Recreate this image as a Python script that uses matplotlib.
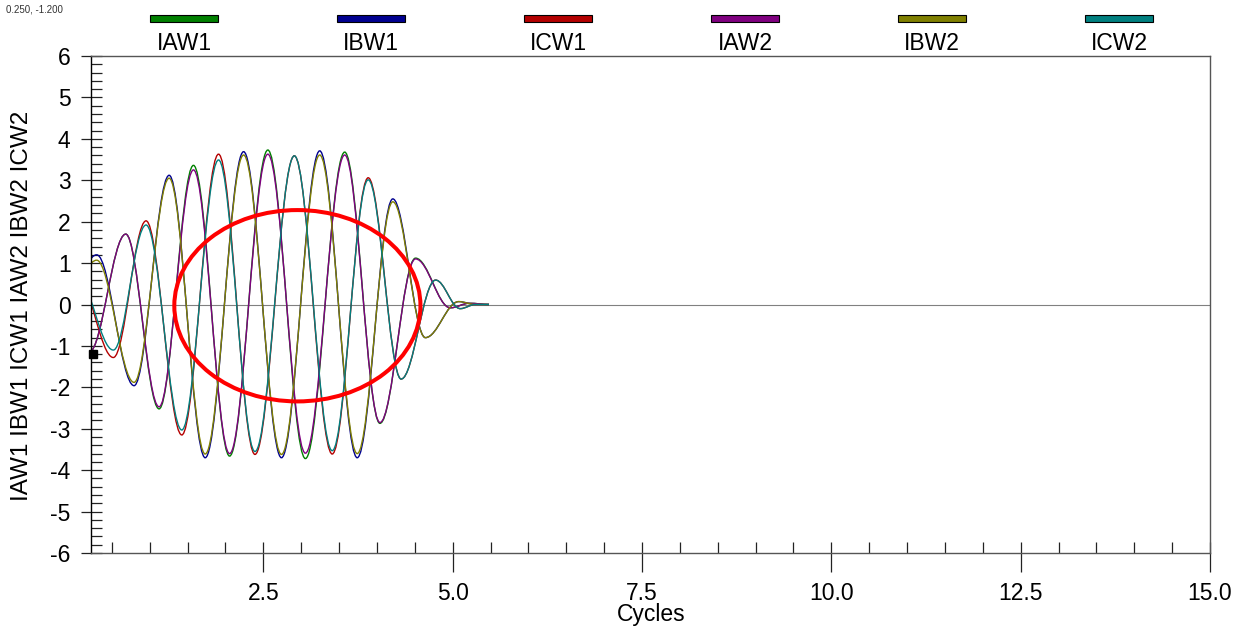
import numpy as np
import matplotlib
matplotlib.use('Agg')
import matplotlib.pyplot as plt
from matplotlib.path import Path
from matplotlib.patches import PathPatch, Ellipse, Rectangle

plt.rcParams['font.family'] = ['Liberation Sans', 'DejaVu Sans']
plt.rcParams['axes.unicode_minus'] = False

# Channel names and colours
channels = ['IAW1', 'IBW1', 'ICW1', 'IAW2', 'IBW2', 'ICW2']
colors = ['#008000', '#000090', '#b40000', '#800080', '#808000', '#008080']

# Waveform extrema (time in cycles, current), per phase
a_times = [0.20, 0.684, 1.124, 1.578, 2.055, 2.56, 3.056, 3.575, 4.04, 4.51, 4.97, 5.22, 5.48]
iaw1 = [-1.15, 1.70, -2.52, 3.36, -3.66, 3.73, -3.72, 3.68, -2.87, 1.12, -0.08, 0.03, 0.0]
iaw2 = [-1.15, 1.70, -2.47, 3.25, -3.60, 3.63, -3.59, 3.61, -2.85, 1.10, -0.08, 0.03, 0.0]

b_times = [-0.19, 0.30, 0.794, 1.257, 1.733, 2.24, 2.74, 3.245, 3.74, 4.21, 4.64, 5.08, 5.30, 5.48]
ibw1 = [-0.40, 1.20, -1.96, 3.12, -3.70, 3.69, -3.70, 3.71, -3.70, 2.55, -0.80, 0.07, 0.0, 0.0]
ibw2 = [-0.35, 1.07, -1.88, 3.05, -3.61, 3.61, -3.62, 3.61, -3.60, 2.48, -0.80, 0.07, 0.0, 0.0]

c_times = [0.04, 0.52, 0.952, 1.424, 1.909, 2.39, 2.91, 3.41, 3.885, 4.32, 4.775, 5.10, 5.30, 5.48]
icw1 = [0.67, -1.28, 2.02, -3.15, 3.63, -3.62, 3.59, -3.61, 3.06, -1.80, 0.59, -0.10, 0.0, 0.0]
icw2 = [0.67, -1.10, 1.92, -3.03, 3.49, -3.55, 3.59, -3.53, 3.01, -1.80, 0.59, -0.10, 0.0, 0.0]

series = [(a_times, iaw1), (b_times, ibw1), (c_times, icw1),
          (a_times, iaw2), (b_times, ibw2), (c_times, icw2)]

# Highlight ellipse (centre, width, height) and cursor readout
ellipse_center = (2.95, -0.03)
ellipse_w, ellipse_h = 3.25, 4.62
cursor = (0.250, -1.200)

K = 1 - 2 / np.pi  # bezier handle for a half sine between extrema


def wave_path(times, values):
    verts = [(times[0], values[0])]
    codes = [Path.MOVETO]
    for i in range(len(times) - 1):
        t1, t2 = times[i], times[i + 1]
        v1, v2 = values[i], values[i + 1]
        dt = t2 - t1
        verts += [(t1 + K * dt, v1), (t2 - K * dt, v2), (t2, v2)]
        codes += [Path.CURVE4] * 3
    return Path(verts, codes)


fig = plt.figure(figsize=(12.54, 6.30), dpi=100)
ax = fig.add_axes([91 / 1254, 1 - 553 / 630, 1119 / 1254, 497 / 630])

ax.axhline(0, color='#808080', lw=0.8, zorder=1)

for (t, v), c in zip(series, colors):
    ax.add_patch(PathPatch(wave_path(t, v), fill=False, edgecolor=c, lw=1.0, zorder=2))

ax.add_patch(Ellipse(ellipse_center, ellipse_w, ellipse_h, fill=False,
                     edgecolor='#ff0000', lw=2.9, zorder=3))

ax.plot([cursor[0]], [cursor[1]], 's', color='black', ms=6, clip_on=False, zorder=4)

ax.set_xlim(0.225, 15.0)
ax.set_ylim(-6, 6)

ax.set_xticks(np.arange(2.5, 15.01, 2.5))
ax.set_xticklabels([f'{x:.1f}' for x in np.arange(2.5, 15.01, 2.5)])
ax.set_xticks(np.arange(0.5, 15.01, 0.5), minor=True)
ax.set_yticks(np.arange(-6, 7, 1))
ax.set_yticks(np.arange(-6, 6.01, 0.2), minor=True)
ax.xaxis.remove_overlapping_locs = False
ax.yaxis.remove_overlapping_locs = False

ax.tick_params(axis='x', which='major', direction='out', length=13.7, width=0.9,
               color='#222222', labelsize=16.5, pad=7)
ax.tick_params(axis='x', which='minor', direction='in', length=7.9, width=0.9, color='#222222')
ax.tick_params(axis='y', which='major', direction='out', length=7.2, width=0.9,
               color='#222222', labelsize=16.5, pad=7.5)
ax.tick_params(axis='y', which='minor', direction='in', length=7.9, width=0.9, color='#222222')

for side in ['top', 'right', 'bottom']:
    ax.spines[side].set_color('#555555')
    ax.spines[side].set_linewidth(1.0)
ax.spines['left'].set_color('black')
ax.spines['left'].set_linewidth(1.0)

# Legend strip across the top
for i, (name, c) in enumerate(zip(channels, colors)):
    cx = (184 + i * 187) / 1254
    fig.patches.append(Rectangle((cx - 34 / 1254, 1 - 21.5 / 630), 68 / 1254, 7 / 630,
                                 facecolor=c, edgecolor='black', lw=0.8,
                                 transform=fig.transFigure, figure=fig))
    fig.text(cx, 1 - 43.5 / 630, name, ha='center', va='center', fontsize=16.5)

fig.text(22 / 1254, 1 - 306 / 630, ' '.join(channels), rotation=90,
         ha='center', va='center', fontsize=17.5)
fig.text(651 / 1254, 1 - 614 / 630, 'Cycles', ha='center', va='center', fontsize=16.5)
fig.text(6 / 1254, 1 - 9 / 630, f'{cursor[0]:.3f}, {cursor[1]:.3f}', ha='left',
         va='center', fontsize=7, color='#333333')

fig.savefig('out.png', dpi=100)
